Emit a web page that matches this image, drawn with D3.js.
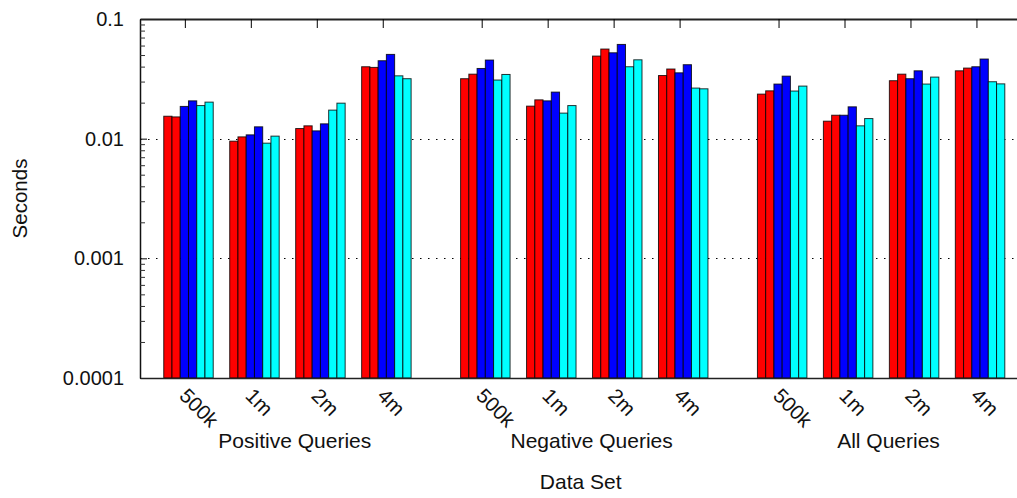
<!DOCTYPE html>
<html>
<head>
<meta charset="utf-8">
<script src="https://cdn.jsdelivr.net/npm/d3@7"></script>
<style>
  html, body { margin: 0; padding: 0; background: #fff; }
  svg { display: block; font-family: "Liberation Sans", Arial, sans-serif; }
</style>
</head>
<body>
<div id="chart"></div>
<script>
// Query groups and data sets along the x axis
const groups = ["Positive Queries", "Negative Queries", "All Queries"];
const dataSets = ["500k", "1m", "2m", "4m"];
const seriesNames = ["Red A", "Red B", "Blue A", "Blue B", "Cyan A", "Cyan B"];
const yTickValues = [0.0001, 0.001, 0.01, 0.1];
const yTickLabels = ["0.0001", "0.001", "0.01", "0.1"];

// Seconds per bar: one row per data set, one column per series
const positiveQueries = [
    [0.0154, 0.0152, 0.0186, 0.0207, 0.0189, 0.0202],
    [0.00953, 0.01035, 0.01076, 0.01256, 0.00917, 0.0105],
    [0.01215, 0.0128, 0.01162, 0.0133, 0.01732, 0.0198],
    [0.0399, 0.0394, 0.0448, 0.0506, 0.0335, 0.0317]
];
const negativeQueries = [
    [0.0317, 0.0346, 0.0386, 0.0454, 0.0309, 0.0344],
    [0.0187, 0.0211, 0.0207, 0.0245, 0.01635, 0.0189],
    [0.049, 0.0561, 0.0522, 0.0613, 0.0399, 0.0456],
    [0.0337, 0.0382, 0.0355, 0.0415, 0.02647, 0.0261]
];
const allQueries = [
    [0.02357, 0.0251, 0.0286, 0.0333, 0.025, 0.0275],
    [0.014, 0.0157, 0.0157, 0.01845, 0.0128, 0.01472],
    [0.0305, 0.0346, 0.0317, 0.0369, 0.0286, 0.0327],
    [0.0369, 0.0389, 0.0399, 0.0463, 0.0299, 0.0287]
];
const groupValues = [positiveQueries, negativeQueries, allQueries];

const seriesColors = ["#ff0000", "#ff0000", "#0000ff", "#0000ff", "#00ffff", "#00ffff"];

//Setup Dimensions
const width = 1017;
const height = 498;
const plot = { left: 140, right: 1018, top: 19, bottom: 378 };
const groupGap = 4.5;

const svg = d3.select("#chart")
    .append("svg")
    .attr("width", width)
    .attr("height", height);

//Scales
const x = d3.scaleLinear()
    .domain([-0.68, 12.63])
    .range([plot.left, plot.right]);
const y = d3.scaleLog()
    .domain([0.0001, 0.1])
    .range([plot.bottom, plot.top]);

//Flatten bars
const ticks = [];
const bars = [];
groupValues.forEach((rows, g) => {
    rows.forEach((vals, d) => {
        const pos = g * groupGap + d;
        ticks.push({ pos, label: dataSets[d] });
        vals.forEach((v, s) => bars.push({ pos, s, v, name: seriesNames[s] }));
    });
});
const tickPositions = ticks.map(t => t.pos);

//Grid lines (dotted)
svg.append("g")
    .selectAll("line")
    .data([0.001, 0.01])
    .enter().append("line")
    .attr("x1", plot.left)
    .attr("x2", plot.right)
    .attr("y1", d => Math.round(y(d)) + 0.5)
    .attr("y2", d => Math.round(y(d)) + 0.5)
    .attr("stroke", "#000")
    .attr("stroke-width", 1.2)
    .attr("stroke-dasharray", "1.5,6.5");

//Bars
const slot = 0.125;
svg.append("g")
    .selectAll("rect")
    .data(bars)
    .enter().append("rect")
    .attr("x", d => x(d.pos - 0.32 + d.s * slot))
    .attr("width", x(slot) - x(0))
    .attr("y", d => y(d.v))
    .attr("height", d => plot.bottom - y(d.v))
    .attr("fill", d => seriesColors[d.s])
    .attr("stroke", "#000")
    .attr("stroke-opacity", 0.8)
    .attr("stroke-width", 1);

//Left axis, major + minor ticks
const minorTicks = [];
[0.0001, 0.001, 0.01].forEach(dec => {
    for (let k = 2; k <= 9; k++) minorTicks.push(dec * k);
});

const yAxis = svg.append("g")
    .attr("transform", `translate(${plot.left},0)`)
    .call(d3.axisLeft(y)
        .tickValues(yTickValues)
        .tickFormat((d, i) => yTickLabels[i])
        .tickSizeInner(-7)
        .tickSizeOuter(0)
        .tickPadding(16));
yAxis.select(".domain").attr("stroke", "#111").attr("stroke-width", 1.5);
yAxis.selectAll("text")
    .attr("font-size", 20)
    .attr("fill", "#111")
    .attr("font-family", "Liberation Sans, Arial, sans-serif");

svg.append("g")
    .attr("transform", `translate(${plot.left},0)`)
    .call(d3.axisLeft(y)
        .tickValues(minorTicks)
        .tickFormat("")
        .tickSizeInner(-5)
        .tickSizeOuter(0))
    .call(g => g.select(".domain").remove())
    .selectAll("line").attr("stroke", "#333");

//Top axis (mirrored ticks)
const topAxis = svg.append("g")
    .attr("transform", `translate(0,${plot.top})`)
    .call(d3.axisTop(x)
        .tickValues(tickPositions)
        .tickFormat("")
        .tickSizeInner(-9)
        .tickSizeOuter(0));
topAxis.select(".domain").attr("stroke", "#222").attr("stroke-width", 2);

//Bottom axis with rotated labels
const bottomAxis = svg.append("g")
    .attr("transform", `translate(0,${plot.bottom})`)
    .call(d3.axisBottom(x)
        .tickValues(tickPositions)
        .tickFormat((d, i) => ticks[i].label)
        .tickSize(0)
        .tickSizeOuter(0));
bottomAxis.select(".domain").attr("stroke", "#222").attr("stroke-width", 1.5);
bottomAxis.selectAll("text")
    .attr("x", 0)
    .attr("y", 0)
    .attr("dy", "0.35em")
    .attr("transform", "translate(-2,14) rotate(45)")
    .attr("text-anchor", "start")
    .attr("font-size", 20.5)
    .attr("fill", "#111")
    .attr("font-family", "Liberation Sans, Arial, sans-serif");

//Group labels
svg.append("g")
    .selectAll("text")
    .data(groups)
    .enter().append("text")
    .attr("x", (d, g) => x(g * groupGap + 1.5) + 11)
    .attr("y", 448)
    .attr("text-anchor", "middle")
    .attr("font-size", 21)
    .attr("fill", "#111")
    .text(d => d);

//Axis titles
svg.append("text")
    .attr("x", x(groupGap + 1.5))
    .attr("y", 489)
    .attr("text-anchor", "middle")
    .attr("font-size", 21)
    .attr("fill", "#111")
    .text("Data Set");

svg.append("text")
    .attr("transform", `translate(27,${(plot.top + plot.bottom) / 2}) rotate(-90)`)
    .attr("text-anchor", "middle")
    .attr("font-size", 20.5)
    .attr("fill", "#111")
    .text("Seconds");
</script>
</body>
</html>
